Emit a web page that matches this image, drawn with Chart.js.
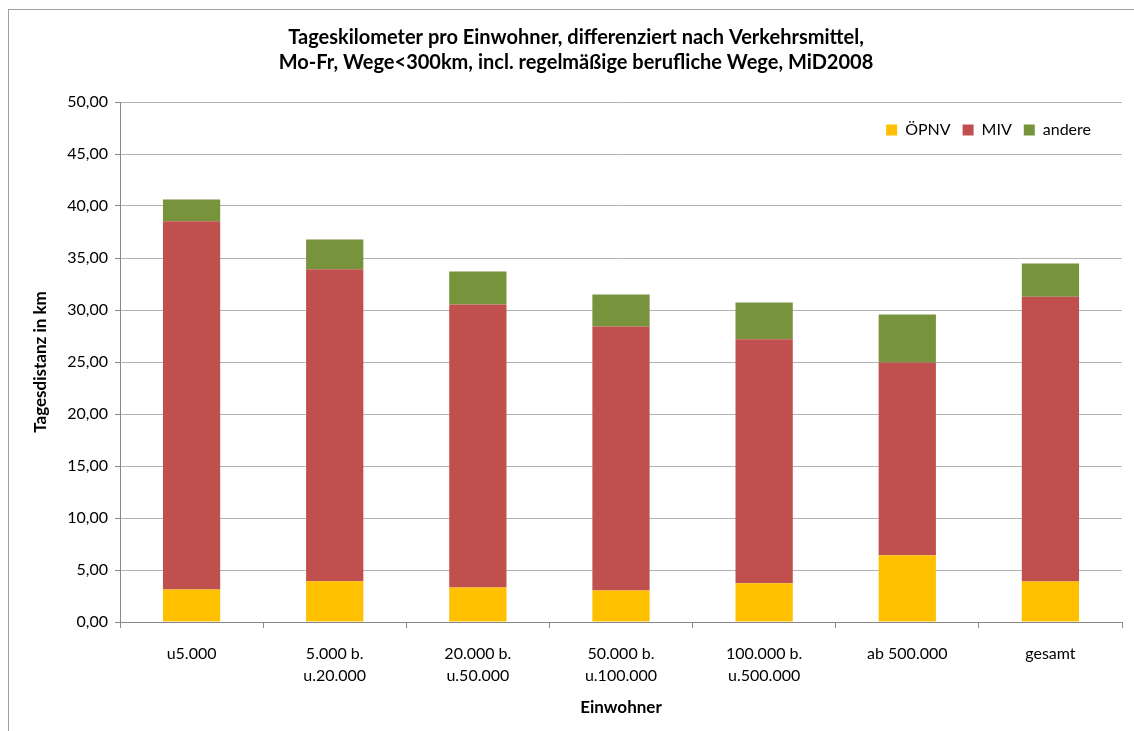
<!DOCTYPE html>
<html lang="de">
<head>
<meta charset="utf-8">
<title>Tageskilometer pro Einwohner</title>
<script src="https://cdn.jsdelivr.net/npm/chart.js@4.4.1/dist/chart.umd.min.js"></script>
<style>
    html, body { margin: 0; padding: 0; background: #fff; }
    canvas { display: block; }
</style>
</head>
<body>
<canvas id="distanceChart" width="1134" height="731"></canvas>
<script>
// Gemeindegrößenklassen (x-Achse)
const categories = [
    'u5.000',
    ['5.000 b.', 'u.20.000'],
    ['20.000 b.', 'u.50.000'],
    ['50.000 b.', 'u.100.000'],
    ['100.000 b.', 'u.500.000'],
    'ab 500.000',
    'gesamt'
];

// km pro Einwohner und Tag je Verkehrsmittel
const oepnvKm  = [3.13, 3.92, 3.32, 3.03, 3.73, 6.42, 3.89];
const mivKm    = [35.41, 30.00, 27.21, 25.38, 23.46, 18.53, 27.38];
const andereKm = [2.09, 2.86, 3.17, 3.08, 3.53, 4.62, 3.20];

const yTicks = { min: 0, max: 50, step: 5 };

const titleLines = [
    'Tageskilometer pro Einwohner, differenziert nach Verkehrsmittel,',
    'Mo-Fr, Wege<300km, incl. regelmäßige berufliche Wege, MiD2008'
];

const FONT = 'Lato, "Open Sans", sans-serif';

// Rahmen um das Diagramm
const chartFrame = {
    id: 'chartFrame',
    beforeDraw(chart) {
        const ctx = chart.ctx;
        ctx.save();
        ctx.fillStyle = '#fff';
        ctx.fillRect(0, 0, chart.width, chart.height);
        ctx.strokeStyle = '#a0a0a0';
        ctx.lineWidth = 1;
        ctx.strokeRect(8.5, 9.5, chart.width + 20, chart.height + 20);
        ctx.restore();
    }
};

// Legende oben rechts innerhalb der Zeichenfläche, ohne Platz zu reservieren
const legendInPlot = {
    id: 'legendInPlot',
    beforeInit(chart) {
        const lg = chart.legend;
        const fit = lg.fit;
        lg.fit = function () {
            fit.call(this);
            this._fullHeight = this.height;
            this.height = 0;
        };
    },
    afterUpdate(chart) {
        const lg = chart.legend;
        const area = chart.chartArea;
        lg.left = area.left;
        lg.right = 1103;
        lg.width = lg.right - lg.left;
        lg.top = area.top + 8;
        lg.height = lg._fullHeight;
        lg.bottom = lg.top + lg.height;
        lg.adjustHitBoxes();
    }
};

document.addEventListener('DOMContentLoaded', function () {
    const ctx = document.getElementById('distanceChart').getContext('2d');
    new Chart(ctx, {
        type: 'bar',
        data: {
            labels: categories,
            datasets: [
                { label: 'ÖPNV', data: oepnvKm, backgroundColor: '#FFC000' },
                { label: 'MIV', data: mivKm, backgroundColor: '#C0504D' },
                { label: 'andere', data: andereKm, backgroundColor: '#77933C' }
            ]
        },
        options: {
            responsive: false,
            animation: false,
            events: [],
            categoryPercentage: 0.8,
            barPercentage: 0.5,
            layout: {
                padding: { top: 20, left: 30, right: 12, bottom: 0 }
            },
            plugins: {
                title: {
                    display: true,
                    text: titleLines,
                    color: '#000',
                    font: { family: FONT, size: 20, weight: 'bold', lineHeight: 1.25 },
                    padding: { top: 5.5, bottom: 26.5 }
                },
                legend: {
                    position: 'top',
                    align: 'end',
                    labels: {
                        color: '#000',
                        font: { family: FONT, size: 16 },
                        boxWidth: 11,
                        boxHeight: 11,
                        padding: 12
                    }
                },
                tooltip: { enabled: false }
            },
            scales: {
                x: {
                    stacked: true,
                    afterFit: s => { s.height = 109; },
                    border: { color: '#888', width: 1 },
                    grid: {
                        display: true,
                        drawOnChartArea: false,
                        tickLength: 6,
                        tickColor: '#888',
                        offset: true
                    },
                    ticks: {
                        color: '#000',
                        padding: 15,
                        maxRotation: 0,
                        autoSkip: false,
                        font: { family: FONT, size: 16, lineHeight: 1.35 }
                    },
                    title: {
                        display: true,
                        text: 'Einwohner',
                        color: '#000',
                        font: { family: FONT, size: 17, weight: 'bold', lineHeight: 1.2 },
                        padding: { top: 0, bottom: 13 }
                    }
                },
                y: {
                    stacked: true,
                    min: yTicks.min,
                    max: yTicks.max,
                    afterFit: s => { s.width = 90; },
                    border: { color: '#888', width: 1 },
                    grid: {
                        color: '#b3b3b3',
                        tickColor: '#888',
                        tickLength: 5
                    },
                    ticks: {
                        stepSize: yTicks.step,
                        color: '#000',
                        padding: 7,
                        font: { family: FONT, size: 16 },
                        callback: v => v.toFixed(2).replace('.', ',')
                    },
                    title: {
                        display: true,
                        text: 'Tagesdistanz in km',
                        color: '#000',
                        font: { family: FONT, size: 17, weight: 'bold', lineHeight: 1.2 },
                        padding: { top: 0, bottom: 0 }
                    }
                }
            }
        },
        plugins: [chartFrame, legendInPlot]
    });
});
</script>
</body>
</html>
